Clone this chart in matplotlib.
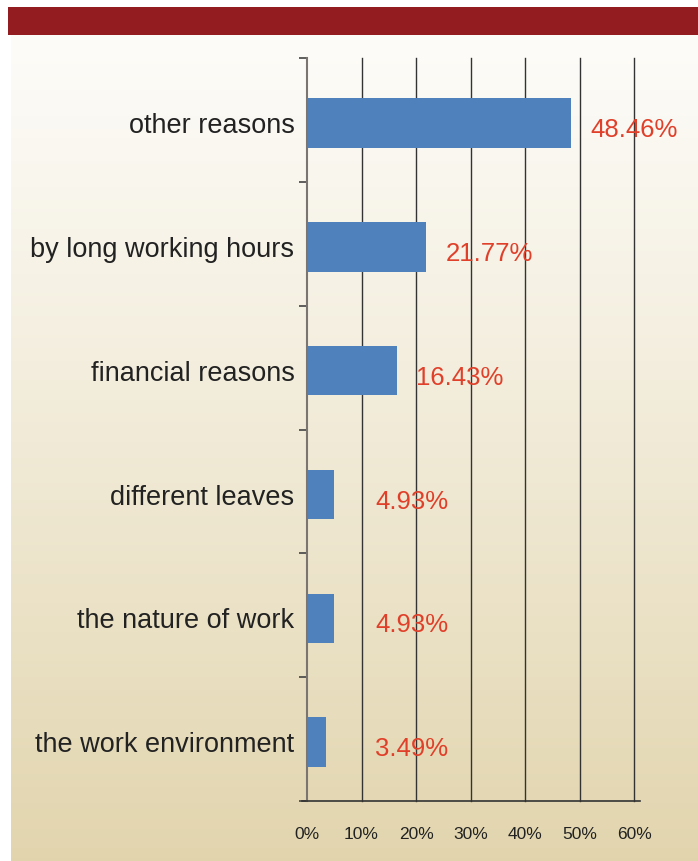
import numpy as np
import matplotlib.pyplot as plt
from matplotlib.transforms import offset_copy

# reasons and shares (%)
reasons = ["other reasons", "by long working hours", "financial reasons",
           "different leaves", "the nature of work", "the work environment"]
shares = [48.46, 21.77, 16.43, 4.93, 4.93, 3.49]
value_labels = ["48.46%", "21.77%", "16.43%", "4.93%", "4.93%", "3.49%"]
xticks = [0, 10, 20, 30, 40, 50, 60]
xtick_labels = ["0%", "10%", "20%", "30%", "40%", "50%", "60%"]

plt.rcParams['font.family'] = ['Liberation Sans', 'DejaVu Sans']

fig = plt.figure(figsize=(6.98, 8.61), dpi=100)

# panel background: pale cream fading to tan towards the bottom
bg = fig.add_axes([11 / 698, 0, 1 - 11 / 698, 1 - 35 / 861])
bg.set_axis_off()
top = np.array([0.992, 0.988, 0.975])
bottom = np.array([0.886, 0.835, 0.682])
t = np.linspace(0, 1, 256)[:, None]
grad = top + (bottom - top) * t ** 1.1
bg.imshow(grad[:, None, :], aspect='auto', extent=[0, 1, 0, 1])

# dark red banner
banner = fig.add_axes([8 / 698, 1 - 35 / 861, 1 - 8 / 698, 28 / 861])
banner.set_axis_off()
banner.add_patch(plt.Rectangle((0, 0), 1, 1, color='#921c20', transform=banner.transAxes))

ax = fig.add_axes([307 / 698, 1 - 801 / 861, (634 - 307) / 698, (801 - 58) / 861])
ax.patch.set_alpha(0)

y = np.arange(len(reasons))
ax.barh(y, shares, height=0.4, color='#4f81bd', zorder=2)

shift = 0.025  # bars sit a touch below the middle of each band
ax.set_xlim(0, 60)
ax.set_ylim(len(reasons) - 0.5 - shift, -0.5 - shift)

for x in xticks[1:]:
    ax.axvline(x, color='#333333', lw=1.0, zorder=1, clip_on=False)

ax.set_xticks(xticks)
ax.set_xticklabels(xtick_labels, fontsize=12.5, color='#222222')
ax.tick_params(axis='x', length=0, pad=19)

ax.set_yticks(y)
ax.set_yticklabels(reasons, fontsize=19.5, color='#222222')
ax.tick_params(axis='y', which='major', length=0, pad=9)
ax.set_yticks(np.arange(-0.5, len(reasons)) - shift, minor=True)
ax.tick_params(axis='y', which='minor', length=6, width=1.2, color='#444444', direction='out')

for side in ['top', 'right']:
    ax.spines[side].set_visible(False)
ax.spines['left'].set_color('#7a7570')
ax.spines['left'].set_linewidth(1.5)
ax.spines['bottom'].set_visible(False)
ax.plot([-0.015, 1.018], [0, 0], transform=ax.transAxes, color='#333333',
        lw=1.2, clip_on=False, zorder=3)

# value labels to the right of each bar
lbl_tr = offset_copy(ax.transData, fig=fig, x=0, y=-7, units='dots')
for yi, v, s in zip(y, shares, value_labels):
    ax.text(max(v + 3.6, 12.5), yi, s, transform=lbl_tr, va='center', ha='left',
            fontsize=18.5, color='#e0402a', zorder=4)

fig.savefig('out.png', dpi=100)
